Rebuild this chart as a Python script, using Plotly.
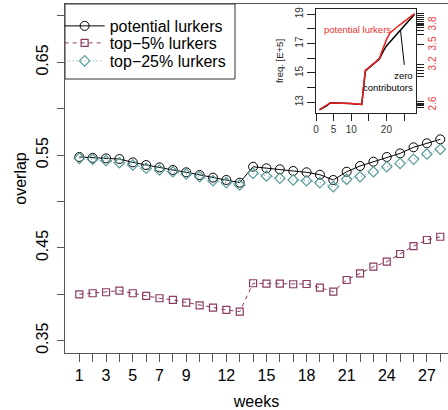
import plotly.graph_objects as go

weeks = list(range(1, 29))

potential = [0.548, 0.547, 0.5465, 0.5458, 0.5422, 0.5393, 0.5368, 0.534, 0.5315, 0.5286,
             0.5257, 0.5232, 0.5203, 0.5375, 0.5358, 0.5347, 0.5329, 0.5315, 0.5289, 0.5232,
             0.5321, 0.5383, 0.5429, 0.548, 0.5519, 0.5584, 0.5627, 0.567]
top5 = [0.400, 0.4011, 0.4022, 0.4039, 0.4011, 0.3982, 0.3957, 0.3939, 0.391, 0.3881,
        0.3856, 0.3831, 0.3813, 0.4119, 0.4115, 0.4115, 0.4108, 0.4111, 0.4071, 0.4028,
        0.4154, 0.4226, 0.4297, 0.4351, 0.4434, 0.452, 0.4585, 0.462]
top25 = [0.5465, 0.5455, 0.544, 0.5418, 0.5393, 0.5358, 0.534, 0.5321, 0.5296, 0.5267,
         0.5224, 0.5203, 0.5178, 0.5304, 0.5275, 0.525, 0.5232, 0.5224, 0.5203, 0.516,
         0.5239, 0.5267, 0.5321, 0.5375, 0.5411, 0.5455, 0.5512, 0.5563]

x_tick_labels = ["1", "", "3", "", "5", "", "7", "", "9", "", "", "12", "", "", "15", "", "",
                 "18", "", "", "21", "", "", "24", "", "", "27", ""]
y_tick_vals = [0.35, 0.40, 0.45, 0.50, 0.55, 0.60, 0.65, 0.70]
y_tick_labels = ["0.35", "", "0.45", "", "0.55", "", "0.65", ""]

# inset data
zero_contrib = [12.48, 12.62, 12.75, 12.96, 12.96, 12.95, 12.94, 12.93, 12.92, 12.91,
                12.89, 12.88, 12.86, 15.13, 15.34, 15.54, 15.75, 15.95, 16.43, 16.84,
                17.11, 17.38, 17.62, 17.9, 18.17, 18.44, 18.71, 19.0]
potential_count = [2.53, 2.56, 2.59, 2.63, 2.63, 2.63, 2.63, 2.62, 2.62, 2.62, 2.62, 2.61,
                   2.61, 3.12, 3.16, 3.21, 3.25, 3.30, 3.44, 3.58, 3.68, 3.73, 3.77, 3.81,
                   3.85, 3.88, 3.92, 3.97]
inset_x_ticks = [0, 5, 10, 15, 20, 25]
inset_x_labels = ["0", "5", "10", "", "20", ""]
inset_left_ticks = [13, 14, 15, 16, 17, 18, 19]
inset_left_labels = ["13", "", "15", "", "17", "", "19"]
inset_right_ticks = [3.965, 3.935, 3.905, 3.875, 3.845, 3.815, 3.8, 3.785, 3.755, 3.71, 3.65,
                     3.5, 3.2, 3.155, 3.11, 3.065, 3.02, 2.645, 2.615, 2.6, 2.585, 2.555]
inset_right_labels = ["", "", "", "", "", "", "3.8", "", "", "", "",
                      "3.5", "3.2", "", "", "", "", "", "", "2.6", "", ""]

FONT = "Liberation Sans, Arial, sans-serif"
AX = "#555555"
PURPLE = "#8B3A62"
TEAL = "#5A9A9C"

fig = go.Figure()
fig.add_trace(go.Scatter(x=weeks, y=potential, name="potential lurkers", mode="lines+markers",
                         legend="legend",
                         line=dict(color="black", width=1),
                         marker=dict(symbol="circle-open", size=9, color="black", line=dict(width=1))))
fig.add_trace(go.Scatter(x=weeks, y=top5, name="top\u22125% lurkers", mode="lines+markers",
                         legend="legend2",
                         line=dict(color=PURPLE, width=1, dash="4px,4px"),
                         marker=dict(symbol="square-open", size=7, color=PURPLE, line=dict(width=1.2))))
fig.add_trace(go.Scatter(x=weeks, y=top25, name="top\u221225% lurkers", mode="lines+markers",
                         legend="legend3",
                         line=dict(color=TEAL, width=1, dash="1px,3px"),
                         marker=dict(symbol="diamond-open", size=8, color=TEAL, line=dict(width=1.2))))

fig.add_trace(go.Scatter(x=weeks, y=zero_contrib, xaxis="x2", yaxis="y2", mode="lines",
                         line=dict(color="black", width=1.5), showlegend=False))
fig.add_trace(go.Scatter(x=weeks, y=potential_count, xaxis="x2", yaxis="y3", mode="lines",
                         line=dict(color="#ee1c1c", width=1.5), showlegend=False))

leg_common = dict(x=-0.014, xanchor="left", yanchor="middle", bgcolor="rgba(0,0,0,0)",
                  borderwidth=0, font=dict(size=16), itemwidth=40)

fig.update_layout(
    width=448, height=410,
    margin=dict(l=65, r=0, t=4, b=57, pad=0),
    paper_bgcolor="white", plot_bgcolor="white",
    font=dict(family=FONT, size=16, color="black"),
    showlegend=True,
    legend=dict(y=0.937, **leg_common),
    legend2=dict(y=0.8883, **leg_common),
    legend3=dict(y=0.8367, **leg_common),
    shapes=[dict(type="rect", xref="paper", yref="paper", x0=0, x1=0.4439, y0=0.7851, y1=1,
                 line=dict(color="#333333", width=1), fillcolor="white", layer="below")],
    xaxis=dict(domain=[0, 1], range=[-0.07, 28.58], tickvals=weeks, ticktext=x_tick_labels,
               ticks="outside", ticklen=8, tickcolor=AX, showline=True, linecolor=AX,
               mirror=True, showgrid=False, zeroline=False,
               tickfont=dict(size=16),
               title=dict(text="weeks", font=dict(size=16), standoff=12)),
    yaxis=dict(range=[0.3367, 0.7129], tickvals=y_tick_vals, ticktext=y_tick_labels,
               tickangle=-90, ticks="outside", ticklen=7, tickcolor=AX, showline=True,
               linecolor=AX, mirror=False, showgrid=False, zeroline=False,
               tickfont=dict(size=16), ticklabelstandoff=3,
               title=dict(text="overlap", font=dict(size=16), standoff=2)),
    xaxis2=dict(domain=[0.6554, 0.9164], anchor="y2", range=[0, 28.4],
                tickvals=inset_x_ticks, ticktext=inset_x_labels, ticks="outside", ticklen=7,
                tickcolor="#222", showline=True, linecolor="#222", mirror=True,
                showgrid=False, zeroline=False, tickfont=dict(size=10, color="#333")),
    yaxis2=dict(domain=[0.6877, 0.9857], anchor="x2", range=[12.27, 19.36],
                tickvals=inset_left_ticks, ticktext=inset_left_labels, tickangle=-90,
                ticks="outside", ticklen=8, tickcolor="#222", showline=True, linecolor="#222",
                mirror=True, showgrid=False, zeroline=False,
                tickfont=dict(size=10, color="#333"),
                title=dict(text="freq. [E+5]", font=dict(size=9.5, color="#222"), standoff=8)),
    yaxis3=dict(overlaying="y2", anchor="x2", side="right", range=[2.48, 4.04],
                tickvals=inset_right_ticks, ticktext=inset_right_labels, tickangle=-90,
                ticks="outside", ticklen=7, tickcolor="#222", showline=False,
                showgrid=False, zeroline=False, tickfont=dict(size=10, color="#f04040")),
    annotations=[
        dict(x=11.9, y=17.93, xref="x2", yref="y2", text="potential lurkers", showarrow=False,
             font=dict(size=9.5, color="#f03030")),
        dict(x=weeks[23], y=zero_contrib[23], xref="x2", yref="y2", text="", showarrow=True,
             arrowhead=0, arrowwidth=1, arrowcolor="black", ax=4, ay=36, standoff=0),
        dict(x=28.0, y=14.42, xref="x2", yref="y2", text="zero<br>contributors",
             showarrow=False, xanchor="right", align="right",
             font=dict(size=9.5, color="black")),
    ],
)

fig.write_html("out.html")
